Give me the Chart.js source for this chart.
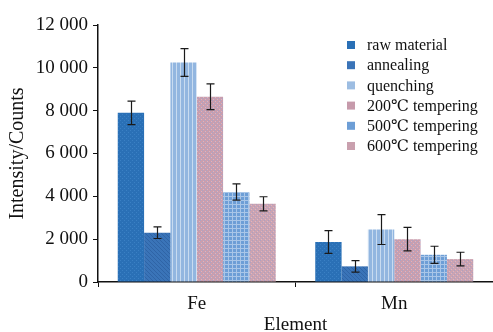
<!DOCTYPE html>
<html lang="en">
<head>
    <meta charset="UTF-8">
    <title>Element intensity</title>
    <script src="https://cdn.jsdelivr.net/npm/chart.js"></script>
    <style>
        html, body { margin: 0; padding: 0; background: #fff; }
        #wrap { width: 493px; height: 332px; }
    </style>
</head>
<body>
    <div id="wrap"><canvas id="intensityChart"></canvas></div>

    <script>
        const elements = ['Fe', 'Mn'];
        const treatments = ['raw material', 'annealing', 'quenching', '200\u2103 tempering', '500\u2103 tempering', '600\u2103 tempering'];

        const rawMaterial = [7900, 1870];
        const annealing = [2300, 730];
        const quenching = [10250, 2450];
        const temper200 = [8650, 2000];
        const temper500 = [4200, 1270];
        const temper600 = [3650, 1070];

        const rawMaterialErr = [550, 530];
        const annealingErr = [270, 270];
        const quenchingErr = [650, 700];
        const temper200Err = [600, 550];
        const temper500Err = [380, 400];
        const temper600Err = [330, 320];

        const yTicks = [0, 2000, 4000, 6000, 8000, 10000, 12000];

        const serif = '"Liberation Serif", "DejaVu Serif", serif';

        // small tiled fills for the bars
        function makePattern(base, draw) {
            const c = document.createElement('canvas');
            c.width = 4; c.height = 4;
            const g = c.getContext('2d');
            g.fillStyle = base;
            g.fillRect(0, 0, 4, 4);
            draw(g);
            return c.getContext('2d').createPattern(c, 'repeat');
        }

        const fills = [
            makePattern('#2a70b6', g => { g.fillStyle = '#3a80c4'; g.fillRect(0, 0, 1, 1); g.fillRect(2, 2, 1, 1); }),
            makePattern('#3a74b8', g => { g.fillStyle = '#2f64a6'; g.fillRect(0, 0, 1, 1); g.fillRect(1, 1, 1, 1); g.fillRect(2, 2, 1, 1); g.fillRect(3, 3, 1, 1); }),
            makePattern('#92b6e0', g => { g.fillStyle = '#c8dbf0'; g.fillRect(0, 0, 1, 4); }),
            makePattern('#c99eae', g => { g.fillStyle = '#aaa4c8'; g.fillRect(0, 0, 1, 1); g.fillRect(2, 2, 1, 1); g.fillStyle = '#ddb4c0'; g.fillRect(1, 3, 1, 1); g.fillRect(3, 1, 1, 1); }),
            makePattern('#6d9ed6', g => { g.fillStyle = '#a9c6e8'; g.fillRect(0, 0, 4, 1); g.fillRect(0, 0, 1, 4); }),
            makePattern('#cba3b1', g => { g.fillStyle = '#ada0c2'; g.fillRect(0, 0, 1, 1); g.fillRect(2, 2, 1, 1); g.fillStyle = '#deb6c2'; g.fillRect(1, 3, 1, 1); g.fillRect(3, 1, 1, 1); })
        ];
        const swatchColors = ['#2a70b6', '#3a74b8', '#9dbde2', '#c69aab', '#6d9ed6', '#c9a0ae'];

        const values = [rawMaterial, annealing, quenching, temper200, temper500, temper600];
        const errors = [rawMaterialErr, annealingErr, quenchingErr, temper200Err, temper500Err, temper600Err];

        const datasets = treatments.map((name, i) => ({
            label: name,
            data: values[i],
            err: errors[i],
            backgroundColor: fills[i],
            swatch: swatchColors[i],
            borderWidth: 0,
            barPercentage: 1,
            categoryPercentage: 0.8
        }));

        // error bars with caps
        const errorBars = {
            id: 'errorBars',
            afterDatasetsDraw(chart) {
                const ctx = chart.ctx;
                const y = chart.scales.y;
                ctx.save();
                ctx.strokeStyle = '#1a1a1a';
                ctx.lineWidth = 1.2;
                chart.data.datasets.forEach((ds, i) => {
                    const meta = chart.getDatasetMeta(i);
                    meta.data.forEach((bar, j) => {
                        const top = y.getPixelForValue(ds.data[j] + ds.err[j]);
                        const bot = y.getPixelForValue(ds.data[j] - ds.err[j]);
                        const x = Math.round(bar.x) + 0.5;
                        ctx.beginPath();
                        ctx.moveTo(x, top); ctx.lineTo(x, bot);
                        ctx.moveTo(x - 4, top); ctx.lineTo(x + 4, top);
                        ctx.moveTo(x - 4, bot); ctx.lineTo(x + 4, bot);
                        ctx.stroke();
                    });
                });
                ctx.restore();
            }
        };

        // legend placed inside the plot, top right
        const insideLegend = {
            id: 'insideLegend',
            afterDraw(chart) {
                const ctx = chart.ctx;
                const area = chart.chartArea;
                const x0 = area.left + 249;
                const y0 = area.top + 21;
                ctx.save();
                ctx.font = '16px ' + serif;
                ctx.textBaseline = 'middle';
                chart.data.datasets.forEach((ds, i) => {
                    const yy = y0 + i * 20.2;
                    ctx.fillStyle = ds.swatch;
                    ctx.fillRect(x0, yy - 5, 8, 8);
                    ctx.fillStyle = '#111';
                    ctx.fillText(ds.label, x0 + 20, yy);
                });
                ctx.restore();
            }
        };

        new Chart(document.getElementById('intensityChart'), {
            type: 'bar',
            data: { labels: elements, datasets: datasets },
            options: {
                responsive: true,
                maintainAspectRatio: false,
                animation: false,
                layout: { padding: { top: 25, right: 0, left: 0, bottom: 0 } },
                plugins: {
                    legend: { display: false },
                    tooltip: { enabled: false }
                },
                scales: {
                    x: {
                        offset: true,
                        afterFit(scale) { scale.height = 50; },
                        grid: { display: true, drawOnChartArea: false, drawTicks: true, tickLength: 5, color: '#111', offset: true },
                        border: { color: '#111', width: 1.5 },
                        ticks: { color: '#111', font: { family: serif, size: 19 }, padding: 6 },
                        title: { display: true, text: 'Element', color: '#111', font: { family: serif, size: 19, lineHeight: 1 }, padding: { top: 0, bottom: -3 } }
                    },
                    y: {
                        min: 0,
                        max: 12000,
                        afterFit(scale) { scale.width = 98; },
                        afterBuildTicks(scale) { scale.ticks = yTicks.map(v => ({ value: v })); },
                        grid: { display: true, drawOnChartArea: false, drawTicks: true, tickLength: 5, color: '#111' },
                        border: { color: '#111', width: 1.5 },
                        ticks: {
                            color: '#111',
                            font: { family: serif, size: 19 },
                            padding: 5,
                            callback: v => String(v).replace(/\B(?=(\d{3})+(?!\d))/g, ' ')
                        },
                        title: { display: true, text: 'Intensity/Counts', color: '#111', font: { family: serif, size: 20, lineHeight: 1 }, padding: { top: 8, bottom: 0 } }
                    }
                }
            },
            plugins: [errorBars, insideLegend]
        });
    </script>
</body>
</html>
